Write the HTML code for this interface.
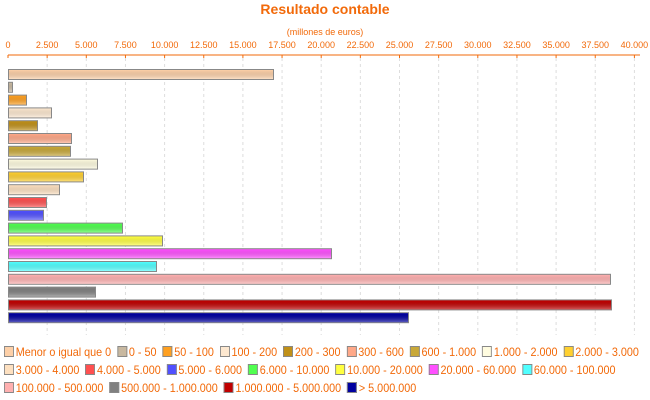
<!DOCTYPE html>
<html><head><style>
body{margin:0;background:#fff;font-family:"Liberation Sans",sans-serif;}
.lg{position:absolute;font-size:12px;color:#f26a0a;white-space:nowrap;line-height:14px;transform:scaleX(0.9);transform-origin:0 0}
.lg span{display:inline-block;width:9px;height:9px;border:1px solid #888;vertical-align:-1px;margin-right:2px}
</style></head><body>
<div style="position:relative;width:650px;height:400px;overflow:hidden">
<svg width="650" height="400" style="position:absolute;left:0;top:0" font-family="Liberation Sans, sans-serif">
<defs>
<linearGradient id="g" x1="0" y1="0" x2="0" y2="1"><stop offset="0" stop-color="#000" stop-opacity="0"/><stop offset="1" stop-color="#fff" stop-opacity="0.35"/></linearGradient>
</defs>
<text x="325" y="14" text-anchor="middle" font-size="14" font-weight="bold" fill="#f26a0a">Resultado contable</text>
<text x="325" y="35" text-anchor="middle" font-size="9" fill="#f26a0a">(millones de euros)</text>
<g id="grid"></g>
<line x1="8" y1="55" x2="640" y2="55" stroke="#f26a0a" stroke-width="1"/>
<g id="ax" font-size="9" fill="#f26a0a" text-anchor="middle"></g>
<g id="bars"></g>
</svg>
<div class="lg" style="left:4px;top:345px"><span style="background:#fdd0a8"></span>Menor o igual que 0 &nbsp;<span style="background:#c8b8a0"></span>0 - 50 &nbsp;<span style="background:#ffa020"></span>50 - 100 &nbsp;<span style="background:#fde8d0"></span>100 - 200 &nbsp;<span style="background:#c09018"></span>200 - 300 &nbsp;<span style="background:#ffa888"></span>300 - 600 &nbsp;<span style="background:#c8a838"></span>600 - 1.000 &nbsp;<span style="background:#fffce0"></span>1.000 - 2.000 &nbsp;<span style="background:#ffd030"></span>2.000 - 3.000</div>
<div class="lg" style="left:4px;top:363px"><span style="background:#fde0c0"></span>3.000 - 4.000 &nbsp;<span style="background:#ff5050"></span>4.000 - 5.000 &nbsp;<span style="background:#5050ff"></span>5.000 - 6.000 &nbsp;<span style="background:#50ff50"></span>6.000 - 10.000 &nbsp;<span style="background:#ffff40"></span>10.000 - 20.000 &nbsp;<span style="background:#ff50ff"></span>20.000 - 60.000 &nbsp;<span style="background:#50ffff"></span>60.000 - 100.000</div>
<div class="lg" style="left:4px;top:381px"><span style="background:#ffb0b0"></span>100.000 - 500.000 &nbsp;<span style="background:#808080"></span>500.000 - 1.000.000 &nbsp;<span style="background:#c00000"></span>1.000.000 - 5.000.000 &nbsp;<span style="background:#0000a0"></span>&gt; 5.000.000</div>
<script>
var ns="http://www.w3.org/2000/svg";
function el(p,t,a,tx){var e=document.createElementNS(ns,t);for(var k in a)e.setAttribute(k,a[k]);if(tx)e.textContent=tx;document.getElementById(p).appendChild(e);}
for(var i=0;i<=16;i++){var x=8+i*39.15;var v=i*2500;var s=v==0?"0":(v/1000).toFixed(3);
el("ax","text",{x:x,y:48},s);el("ax","line",{x1:x,y1:55,x2:x,y2:58,stroke:"#f26a0a"});
if(i>0)el("grid","line",{x1:x,y1:58,x2:x,y2:335,stroke:"#ddd","stroke-dasharray":"3,3"});}
var w=[273,12,26,51,37,71,70,97,83,59,46,43,122,162,331,156,610,95,611,408];
var c=["#fdd0a8","#c8b8a0","#ffa020","#fde8d0","#c09018","#ffa888","#c8a838","#fffce0","#ffd030","#fde0c0","#ff5050","#5050ff","#50ff50","#ffff40","#ff50ff","#50ffff","#ffb0b0","#808080","#c00000","#0000a0"];
for(var i=0;i<20;i++){var y=69.5+i*12.8;
el("bars","rect",{x:8.5,y:y,width:w[i]-8,height:10,fill:c[i],stroke:"#888"});
el("bars","rect",{x:9,y:y+0.5,width:w[i]-9,height:9,fill:"url(#g)"});}
</script>
</div>
</body></html>
